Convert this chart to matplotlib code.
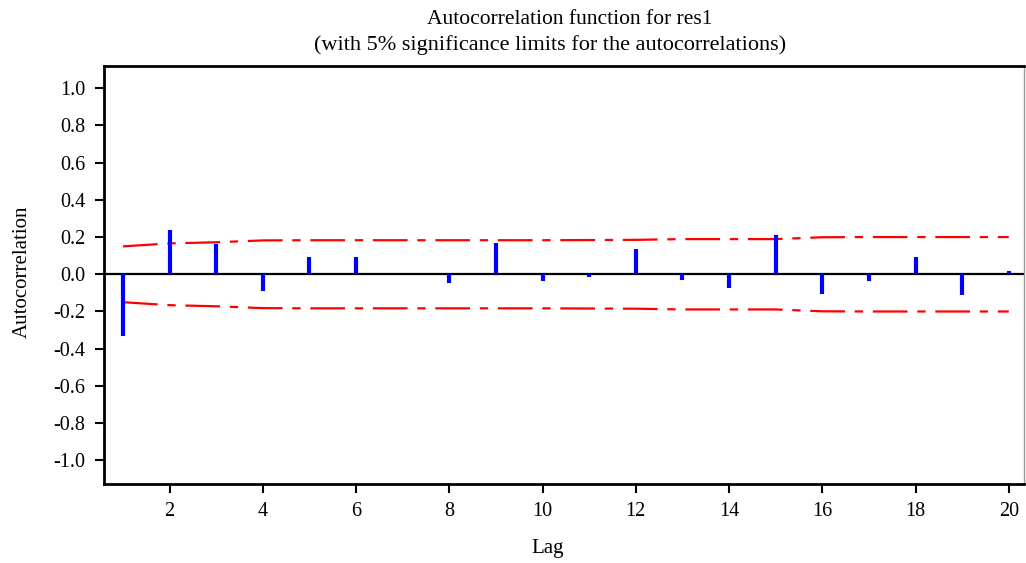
import matplotlib
matplotlib.use("Agg")
import matplotlib.pyplot as plt

lags = list(range(1, 21))
acf = [-0.330, 0.237, 0.163, -0.092, 0.092, 0.092, 0.002, -0.047, 0.169, -0.034,
       -0.012, 0.137, -0.029, -0.074, 0.212, -0.106, -0.036, 0.093, -0.112, 0.018]
limits = [0.150, 0.166, 0.172, 0.182, 0.183, 0.183, 0.183, 0.183, 0.183, 0.183,
          0.184, 0.185, 0.189, 0.189, 0.189, 0.199, 0.200, 0.200, 0.200, 0.200]
yticks = [-1.0, -0.8, -0.6, -0.4, -0.2, 0.0, 0.2, 0.4, 0.6, 0.8, 1.0]
xticks = list(range(2, 21, 2))

plt.rcParams['font.family'] = ['Liberation Serif', 'DejaVu Serif']
plt.rcParams['lines.scale_dashes'] = False

fig = plt.figure(figsize=(10.26, 5.63), dpi=100)
ax = fig.add_axes([0.1017, 0.141, 0.8965, 0.742])

ax.axhline(0, color='black', lw=1.6, zorder=1)
ax.vlines(lags, 0, acf, color='#0000ff', lw=3.0, zorder=3)
dash = (0, (25, 7, 6, 7))
ax.plot(lags, limits, color='#ff0000', lw=1.6, ls=dash, zorder=2)
ax.plot(lags, [-v for v in limits], color='#ff0000', lw=1.6, ls=dash, zorder=2)

ax.set_xlim(0.6, 20.33)
ax.set_ylim(-1.125, 1.12)
ax.set_xticks(xticks)
ax.set_yticks(yticks)
ax.set_yticklabels([f"{v:.1f}" for v in yticks])
ax.tick_params(axis='both', direction='out', length=6.5, width=1.5, labelsize=14.5, colors='black')
ax.tick_params(axis='y', pad=7)
ax.tick_params(axis='x', pad=7)
for s in ['left', 'bottom', 'top']:
    ax.spines[s].set_linewidth(2)
ax.spines['right'].set_linewidth(1)
ax.spines['right'].set_color('#999999')

ax.set_xlabel('Lag', fontsize=15)
ax.xaxis.set_label_coords((547 - 104) / (1024 - 104), -(537 - 482) / 416, transform=ax.transAxes)
ax.set_ylabel('Autocorrelation', fontsize=15)
ax.yaxis.set_label_coords(-(104 - 31) / 920, (482 - 271) / 416, transform=ax.transAxes)
fig.text(570 / 1026, 1 - 20 / 563, 'Autocorrelation function for res1', ha='center', va='center', fontsize=15.5)
fig.text(550 / 1026, 1 - 45 / 563, '(with 5% significance limits for the autocorrelations)', ha='center', va='center', fontsize=16)

fig.savefig('out.png', dpi=100)
